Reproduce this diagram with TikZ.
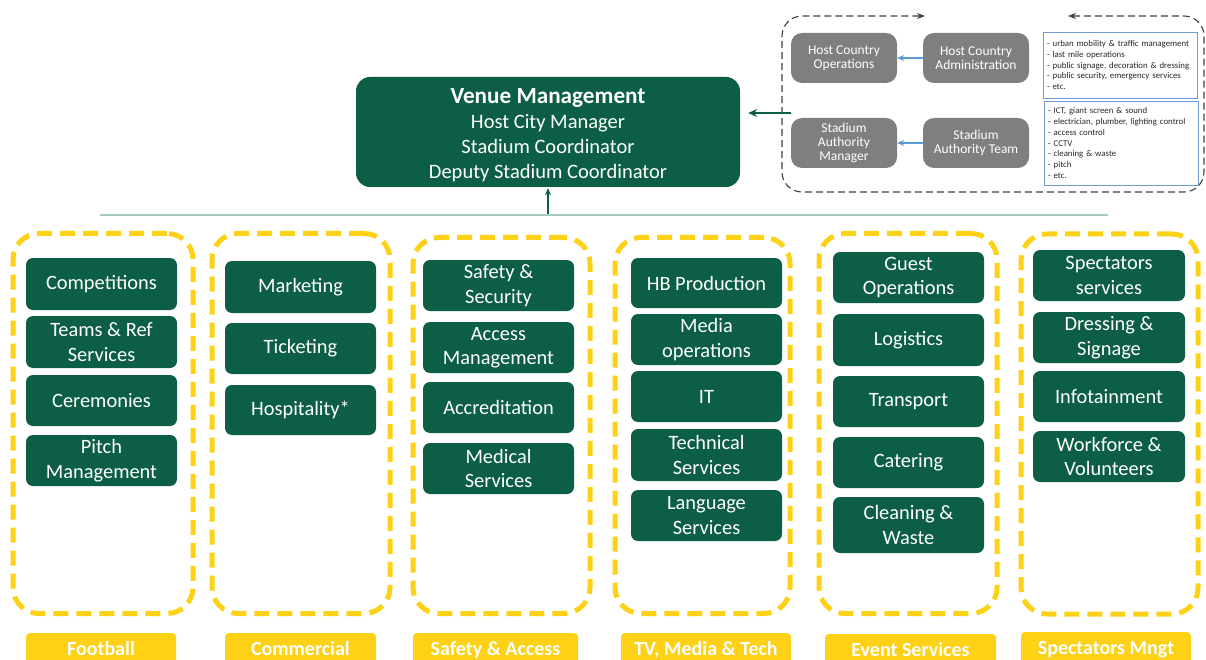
\documentclass[tikz,border=0pt]{standalone}
\usepackage{fontspec}
\setmainfont{Carlito}
\usetikzlibrary{arrows.meta}
\definecolor{dgreen}{HTML}{0D5E46}
\definecolor{ygold}{HTML}{FDD116}
\definecolor{gboxc}{HTML}{7F7F7F}
\definecolor{barrow}{HTML}{5B9BD5}
\definecolor{tborder}{HTML}{6F9BD1}
\definecolor{hlinec}{HTML}{A7CABF}
\definecolor{cdash}{HTML}{404040}
\begin{document}
\begin{tikzpicture}[x=1pt,y=-1pt,
  greenbox/.style={fill=dgreen, rounded corners=7pt, minimum width=151pt, minimum height=51pt, text=white, align=center, font=\fontsize{20.4}{24.5}\selectfont, inner sep=0pt},
  ycol/.style={draw=ygold, line width=5pt, dash pattern=on 15pt off 8pt, rounded corners=26pt, inner sep=0pt},
  ylabel/.style={fill=ygold, rounded corners=4pt, text=white, font=\bfseries\fontsize{20}{20}\selectfont, text height=22pt, text depth=18pt, inner ysep=0pt, inner xsep=0pt, anchor=base},
  graybox/.style={fill=gboxc, rounded corners=11pt, text=white, align=center, font=\fontsize{13.5}{14}\selectfont, minimum width=106pt, minimum height=50pt, inner sep=0pt},
  tbox/.style={draw=tborder, line width=0.9pt, align=left, font=\fontsize{8.8}{10.7}\selectfont, text=black!85, inner xsep=4pt, inner ysep=0pt},
  barr/.style={draw=barrow, line width=1.3pt, -{Stealth[length=7pt,width=6pt]}},
  garrbig/.style={draw=dgreen, line width=2.4pt, -{Stealth[length=9pt,width=8pt]}},
  garrsmall/.style={draw=dgreen, line width=1.3pt, -{Stealth[length=7pt,width=6pt]}},
  cdashed/.style={draw=cdash, line width=1.1pt, dash pattern=on 7pt off 4pt},
  hl/.style={draw=hlinec, line width=1.5pt}
]
\useasboundingbox (0,0) rectangle (1206,660);

% Venue management
\node[fill=dgreen, rounded corners=14pt, minimum width=384pt, minimum height=110pt, text=white, align=center, inner sep=0pt, font=\fontsize{20.5}{25}\selectfont] (ven) at (548,132)
  {\rule{0pt}{22pt}{\bfseries\fontsize{23.2}{25}\selectfont Venue Management}\\Host City Manager\\Stadium Coordinator\\Deputy Stadium Coordinator};

% horizontal line and up arrow
\coordinate (hlL) at (100,215);
\coordinate (hlR) at (1108,215);
\draw[hl] (hlL) -- (hlR);
\coordinate (hmid) at (548,214);
\draw[garrsmall, shorten >=1pt] (hmid) -- (ven.south);

% dashed container
\coordinate (cgapR) at (1068,16);
\coordinate (cgapL) at (925,16);
\draw[cdashed, {Stealth[length=8pt,width=6pt]}-{Stealth[length=8pt,width=6pt]}, rounded corners=20pt]
  (cgapR) -- (1204,16) -- (1204,192) -- (782,192) -- (782,16) -- (cgapL);

% arrow from container to venue
\coordinate (cstart) at (791,113);
\draw[garrbig, shorten >=8pt] (cstart) -- (cstart -| ven.east);

% gray boxes
\node[graybox] (hco) at (844,58) {Host Country\\Operations};
\node[graybox] (hca) at (976,58) {Host Country\\Administration};
\node[graybox] (sam) at (844,143) {Stadium\\Authority\\Manager};
\node[graybox] (sat) at (976,143) {Stadium\\Authority Team};
\draw[barr] (hca) -- (hco);
\draw[barr] (sat) -- (sam);

% text boxes
\node[tbox, minimum width=154pt, minimum height=66pt, text width=146pt] (tb1) at (1120,65)
  {- urban mobility \& traffic management\\- last mile operations\\- public signage, decoration \& dressing\\- public security, emergency services\\- etc.};
\node[tbox, minimum width=154pt, minimum height=84pt, text width=146pt] (tb2) at (1121,143)
  {- ICT, giant screen \& sound\\- electrician, plumber, lighting control\\- access control\\- CCTV\\- cleaning \& waste\\- pitch\\- etc.};

% yellow columns
\node[ycol, minimum width=180pt, minimum height=380pt] (col1) at (103,423.5) {};
\node[ycol, minimum width=178pt, minimum height=380pt] (col2) at (301,423.5) {};
\node[ycol, minimum width=177pt, minimum height=376pt] (col3) at (501.5,425.5) {};
\node[ycol, minimum width=175pt, minimum height=376pt] (col4) at (702.5,425.5) {};
\node[ycol, minimum width=178pt, minimum height=380pt] (col5) at (908,423.5) {};
\node[ycol, minimum width=177pt, minimum height=380pt] (col6) at (1109.5,424) {};

% column 1
\node[greenbox, minimum height=52pt] (comp) at (101.5,284) {Competitions};
\node[greenbox, minimum height=52pt] (teams) at (101.5,342) {Teams \& Ref\\Services};
\node[greenbox] (cere) at (101.5,400.5) {Ceremonies};
\node[greenbox] (pitch) at (101.5,460.5) {Pitch\\Management};
% column 2
\node[greenbox, minimum height=52pt] (mark) at (300.5,287) {Marketing};
\node[greenbox] (tick) at (300.5,348.5) {Ticketing};
\node[greenbox, minimum height=50pt] (hosp) at (300.5,410) {Hospitality*};
% column 3
\node[greenbox] (safe) at (498.5,285.5) {Safety \&\\Security};
\node[greenbox] (acc) at (498.5,347.5) {Access\\Management};
\node[greenbox] (accr) at (498.5,407.5) {Accreditation};
\node[greenbox] (med) at (498.5,468.5) {Medical\\Services};
% column 4
\node[greenbox, minimum height=50pt] (hb) at (706.5,283) {HB Production};
\node[greenbox] (media) at (706.5,339.5) {Media\\operations};
\node[greenbox] (it) at (706.5,396.5) {IT};
\node[greenbox, minimum height=52pt] (tech) at (706.5,455) {Technical\\Services};
\node[greenbox] (lang) at (706.5,515.5) {Language\\Services};
% column 5
\node[greenbox] (guest) at (908.5,277.5) {Guest\\Operations};
\node[greenbox, minimum height=52pt] (logi) at (908.5,340) {Logistics};
\node[greenbox] (trans) at (908.5,401.5) {Transport};
\node[greenbox] (cater) at (908.5,462.5) {Catering};
\node[greenbox, minimum height=56pt] (clean) at (908.5,525) {Cleaning \&\\Waste};
% column 6
\node[greenbox, minimum width=152pt] (spec) at (1109,275.5) {Spectators\\services};
\node[greenbox, minimum width=152pt] (dress) at (1109,337.5) {Dressing \&\\Signage};
\node[greenbox, minimum width=152pt] (info) at (1109,396.5) {Infotainment};
\node[greenbox, minimum width=152pt] (work) at (1109,456.5) {Workforce \&\\Volunteers};

% bottom labels
\node[ylabel, minimum width=150pt] (lab1) at (101,655) {Football};
\node[ylabel, minimum width=151pt] (lab2) at (300.5,655) {Commercial};
\node[ylabel, minimum width=165pt] (lab3) at (495.5,655) {Safety \& Access};
\node[ylabel, minimum width=170pt] (lab4) at (706,655) {TV, Media \& Tech};
\node[ylabel, minimum width=171pt] (lab5) at (910.5,656) {Event Services};
\node[ylabel, minimum width=170pt] (lab6) at (1106,654) {Spectators Mngt};
\end{tikzpicture}
\end{document}
